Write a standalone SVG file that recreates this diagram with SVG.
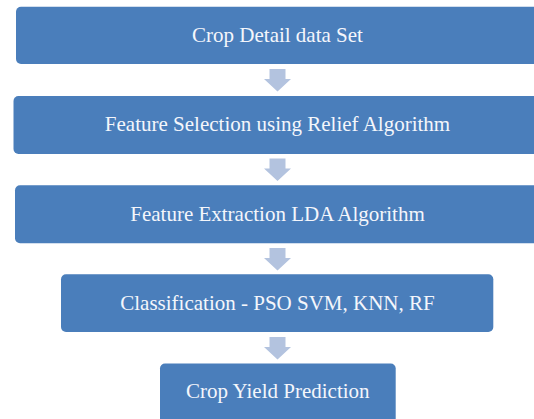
<svg xmlns="http://www.w3.org/2000/svg" width="534" height="419" viewBox="0 0 534 419">
  <style>
    .box { fill: #4a7ebb; }
    .lbl { font-family: "Liberation Serif", "Times New Roman", serif; font-size: 21px; fill: #f4f6fb; text-anchor: middle; }
    .arr { fill: #b3c3df; }
  </style>
  <defs>
    <path id="down" d="M-8,0 H8 V10 H13.5 L0,22.5 L-13.5,10 H-8 Z"/>
  </defs>
  <rect width="534" height="419" fill="#ffffff"/>
  <g id="connectors">
    <use href="#down" class="arr" x="277.5" y="69"/>
    <use href="#down" class="arr" x="277.5" y="158.5"/>
    <use href="#down" class="arr" x="277.5" y="248"/>
    <use href="#down" class="arr" x="277.5" y="337"/>
  </g>
  <g id="node1">
    <rect class="box" x="16" y="6.7" width="524" height="57.3" rx="5"/>
    <text class="lbl" x="277.5" y="41.7">Crop Detail data Set</text>
  </g>
  <g id="node2">
    <rect class="box" x="13.5" y="96" width="530" height="58" rx="5"/>
    <text class="lbl" x="277.5" y="130.5">Feature Selection using Relief Algorithm</text>
  </g>
  <g id="node3">
    <rect class="box" x="15" y="185.3" width="527" height="58" rx="5"/>
    <text class="lbl" x="277.5" y="220.5">Feature Extraction LDA Algorithm</text>
  </g>
  <g id="node4">
    <rect class="box" x="61" y="274.3" width="432.3" height="57.7" rx="5"/>
    <text class="lbl" x="277.5" y="309.5">Classification - PSO SVM, KNN, RF</text>
  </g>
  <g id="node5">
    <rect class="box" x="160" y="363.5" width="235.7" height="62" rx="5"/>
    <text class="lbl" x="277.8" y="398">Crop Yield Prediction</text>
  </g>
</svg>
